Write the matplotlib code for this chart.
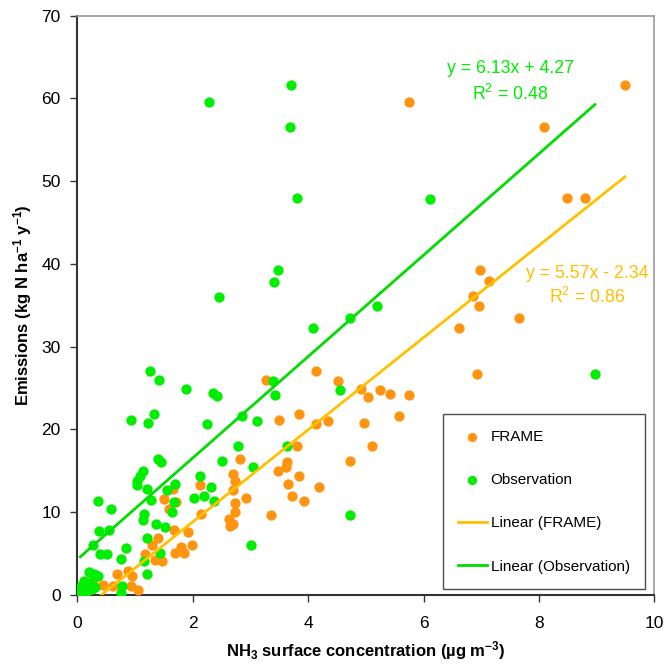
import matplotlib
matplotlib.use("Agg")
import numpy as np
import matplotlib.pyplot as plt

plt.rcParams['font.family'] = ['Liberation Sans', 'DejaVu Sans']
plt.rcParams['mathtext.fontset'] = 'custom'
plt.rcParams['mathtext.rm'] = 'Liberation Sans'
plt.rcParams['mathtext.bf'] = 'Liberation Sans:bold'

# FRAME points (x = NH3 conc, y = emissions)
frame_x = [9.49, 5.75, 8.09, 8.49, 8.80, 6.98, 7.14, 6.86, 6.96, 7.66, 6.62, 4.13, 6.92,
           3.27, 4.51, 4.92, 5.24, 5.42, 5.75, 5.03, 3.84, 5.57, 3.49, 4.35, 4.97, 4.14,
           5.10, 3.81, 2.82, 4.72, 3.63, 3.61, 3.47, 2.70, 3.85, 2.74, 3.65, 2.13, 4.18,
           1.66, 2.70, 3.72, 2.92, 1.51, 3.93, 1.71, 2.74, 1.58, 2.73, 2.15, 3.35, 2.63,
           2.70, 2.65, 1.67, 1.92, 1.39, 1.29, 1.98, 1.80, 1.70, 1.84, 1.18, 1.35, 1.46,
           0.87, 0.68, 0.94, 0.27, 0.44, 0.61, 0.93, 1.05, 0.19, 0.03]
frame_y = [61.6, 59.6, 56.6, 48.0, 47.9, 39.2, 37.9, 36.1, 34.9, 33.5, 32.2, 27.1, 26.7,
           25.9, 25.8, 24.9, 24.8, 24.3, 24.1, 23.9, 21.9, 21.6, 21.1, 21.0, 20.8, 20.6,
           18.0, 18.0, 16.4, 16.2, 16.1, 15.4, 14.9, 14.6, 14.3, 13.8, 13.4, 13.2, 13.0,
           12.8, 12.7, 11.9, 11.7, 11.6, 11.3, 11.2, 11.1, 10.4, 10.0, 9.8, 9.6, 9.1,
           8.5, 8.3, 7.8, 7.6, 6.9, 6.0, 6.0, 5.8, 5.0, 5.0, 4.9, 4.2, 4.1,
           2.9, 2.5, 2.3, 1.8, 1.2, 1.1, 1.0, 0.6, 0.6, 0.2]

# Observation points
obs_x = [3.70, 2.29, 3.69, 3.80, 6.12, 3.47, 3.41, 2.46, 5.19, 4.73, 4.09, 1.26, 8.97,
         1.42, 3.39, 1.88, 4.56, 2.35, 2.42, 3.43, 1.32, 0.93, 1.23, 2.24, 2.85, 3.12,
         2.78, 3.63, 1.39, 1.45, 2.51, 3.05, 1.13, 1.08, 1.03, 1.03, 2.13, 2.32, 1.70,
         1.55, 1.20, 1.27, 1.67, 2.03, 2.20, 2.36, 0.35, 0.59, 1.64, 1.16, 4.73, 1.14,
         1.37, 1.52, 0.38, 0.55, 1.21, 0.27, 3.01, 0.85, 0.40, 0.51, 0.75, 1.43, 1.16,
         0.20, 0.28, 0.35, 1.20, 0.77, 0.76, 0.05, 0.08, 0.10, 0.12, 0.06, 0.15, 0.18,
         0.22, 0.25, 0.13, 0.30, 0.09]
obs_y = [61.6, 59.6, 56.6, 48.0, 47.8, 39.2, 37.8, 36.0, 34.9, 33.5, 32.2, 27.1, 26.7,
         25.9, 25.8, 24.9, 24.8, 24.4, 24.0, 24.1, 21.9, 21.1, 20.8, 20.6, 21.6, 21.0,
         18.0, 18.0, 16.4, 16.0, 16.2, 15.4, 14.9, 14.4, 13.7, 13.2, 14.3, 13.0, 13.4,
         12.7, 12.8, 11.5, 11.2, 11.7, 11.9, 11.3, 11.3, 10.4, 10.0, 9.8, 9.6, 9.0,
         8.5, 8.2, 7.7, 7.8, 6.9, 6.0, 6.0, 5.7, 4.9, 4.9, 4.3, 5.0, 4.1,
         2.8, 2.5, 2.3, 2.5, 1.1, 0.2, 0.2, 0.6, 1.2, 1.6, 1.0, 0.4, 0.9,
         1.4, 0.7, 0.1, 0.9, 0.3]

# trendlines (from the chart equations)
frame_fit = (5.57, -2.34, 0.86)
obs_fit = (6.13, 4.27, 0.48)

c_frame = '#FF9410'
c_obs = '#00EE00'
c_frame_line = '#FFC000'
c_obs_line = '#00DD00'

fig = plt.figure(figsize=(6.67, 6.64), dpi=100)
ax = fig.add_axes([0.116, 0.1044, 0.865, 0.872])

ax.scatter(frame_x, frame_y, s=55, color=c_frame, linewidths=0, label='FRAME', zorder=3)
ax.scatter(obs_x, obs_y, s=55, color=c_obs, linewidths=0, label='Observation', zorder=3)

xf = np.array([min(frame_x), max(frame_x)])
ax.plot(xf, frame_fit[0] * xf + frame_fit[1], color=c_frame_line, lw=2,
        label='Linear (FRAME)', zorder=4)
xo = np.array([min(obs_x), max(obs_x)])
ax.plot(xo, obs_fit[0] * xo + obs_fit[1], color=c_obs_line, lw=2,
        label='Linear (Observation)', zorder=4)

# equation labels
ax.text(7.5, 63.6, 'y = %.2fx + %.2f' % (obs_fit[0], obs_fit[1]), color=c_obs,
        fontsize=12.8, ha='center', va='center')
ax.text(7.5, 60.5, 'R$^2$ = %.2f' % obs_fit[2], color=c_obs,
        fontsize=12.8, ha='center', va='center')
ax.text(8.83, 38.8, 'y = %.2fx - %.2f' % (frame_fit[0], -frame_fit[1]), color=c_frame_line,
        fontsize=12.8, ha='center', va='center')
ax.text(8.83, 36.0, 'R$^2$ = %.2f' % frame_fit[2], color=c_frame_line,
        fontsize=12.8, ha='center', va='center')

ax.set_xlim(0, 10)
ax.set_ylim(0, 70)
ax.set_xticks(range(0, 11, 2))
ax.set_yticks(range(0, 71, 10))
ax.tick_params(direction='out', length=5, width=1, labelsize=12.5, color='#333333')
ax.tick_params(axis='x', pad=10)
ax.tick_params(axis='y', pad=7)

for s in ['left', 'bottom']:
    ax.spines[s].set_color('#333333')
    ax.spines[s].set_linewidth(1.5)
for s in ['top', 'right']:
    ax.spines[s].set_color('#999999')
    ax.spines[s].set_linewidth(1.2)

ax.set_xlabel(r'NH$\mathbf{_3}$ surface concentration (µg m$\mathbf{^{-3}}$)',
              fontsize=12, fontweight='bold', labelpad=6)
ax.set_ylabel(r'Emissions (kg N ha$\mathbf{^{-1}}$ y$\mathbf{^{-1}}$)',
              fontsize=12, fontweight='bold', labelpad=5)

leg = ax.legend(loc='lower right', bbox_to_anchor=(0.984, 0.01), fontsize=11,
                frameon=True, fancybox=False, edgecolor='#222222', labelspacing=1.92,
                handlelength=1.9, handletextpad=0.25, borderpad=1.0, markerscale=0.9,
                borderaxespad=0)
leg.get_frame().set_linewidth(1)

fig.savefig('out.png', dpi=100)
